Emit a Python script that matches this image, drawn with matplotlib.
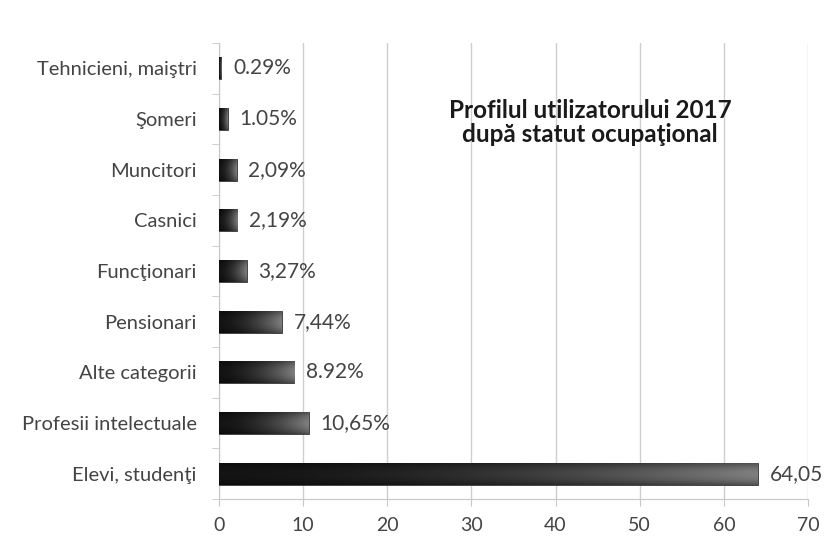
import numpy as np
import matplotlib.pyplot as plt

# data, top to bottom as in the chart
categories = ['Tehnicieni, maiştri', 'Şomeri', 'Muncitori', 'Casnici', 'Funcţionari',
              'Pensionari', 'Alte categorii', 'Profesii intelectuale', 'Elevi, studenţi']
values = [0.29, 1.05, 2.09, 2.19, 3.27, 7.44, 8.92, 10.65, 64.05]
value_labels = ['0.29%', '1.05%', '2,09%', '2,19%', '3,27%', '7,44%', '8.92%', '10,65%', '64,05']
xticks = [0, 10, 20, 30, 40, 50, 60, 70]
title = 'Profilul utilizatorului 2017\ndupă statut ocupaţional'

plt.rcParams['font.family'] = ['Lato', 'DejaVu Sans']

fig = plt.figure(figsize=(8.24, 5.38), dpi=100)
ax = fig.add_axes([0.2658, 0.0725, 0.7148, 0.8475])

y = np.arange(len(categories))
bars = ax.barh(y, values, height=0.43, color='#2b2b2b', zorder=3)

# gradient fill in the bars (dark on the left, lighter to the right)
hx = np.linspace(0, 1, 200)
hgrad = 0.08 + 0.42 * hx ** 1.8
vy = np.linspace(-1, 1, 20)
vshade = 1.0 - 0.35 * np.abs(vy) ** 2
img = np.clip(np.outer(vshade, hgrad), 0, 1)
for b in bars:
    x0, y0, w, h = b.get_x(), b.get_y(), b.get_width(), b.get_height()
    im = ax.imshow(img, cmap='gray', vmin=0, vmax=1, aspect='auto',
                   extent=[x0, x0 + w, y0 + h, y0], zorder=4, interpolation='bilinear')
    im.set_clip_path(b)
    b.set_edgecolor('#3a3a3a')
    b.set_linewidth(0.6)

for b, lab in zip(bars, value_labels):
    ax.annotate(lab, (b.get_width(), b.get_y() + b.get_height() / 2),
                xytext=(8.5, 0), textcoords='offset points', va='center', ha='left',
                fontsize=15, color='#444444', zorder=5)

ax.set_xlim(0, 70)
ax.set_ylim(len(categories) - 0.5, -0.5)
ax.set_xticks(xticks)
ax.set_yticks(y)
ax.set_yticklabels(categories)
ax.set_yticks(np.arange(len(categories) + 1) - 0.5, minor=True)
ax.tick_params(axis='y', which='major', length=0, pad=16, labelsize=14.5, labelcolor='#444444')
ax.tick_params(axis='y', which='minor', length=5, color='#c8c8c8')
ax.tick_params(axis='x', length=5, color='#c8c8c8', pad=8, labelsize=14, labelcolor='#444444')

ax.grid(axis='x', color='#cfcfcf', linewidth=1, zorder=0)
for s in ['top', 'right']:
    ax.spines[s].set_visible(False)
ax.spines['left'].set_color('#c8c8c8')
ax.spines['bottom'].set_color('#c8c8c8')

ax.text(0.63, 0.826, title, transform=ax.transAxes, ha='center', va='center',
        fontsize=17.5, fontweight='bold', color='#1a1a1a', linespacing=1.05, zorder=6)

plt.savefig('out.png', dpi=100)
